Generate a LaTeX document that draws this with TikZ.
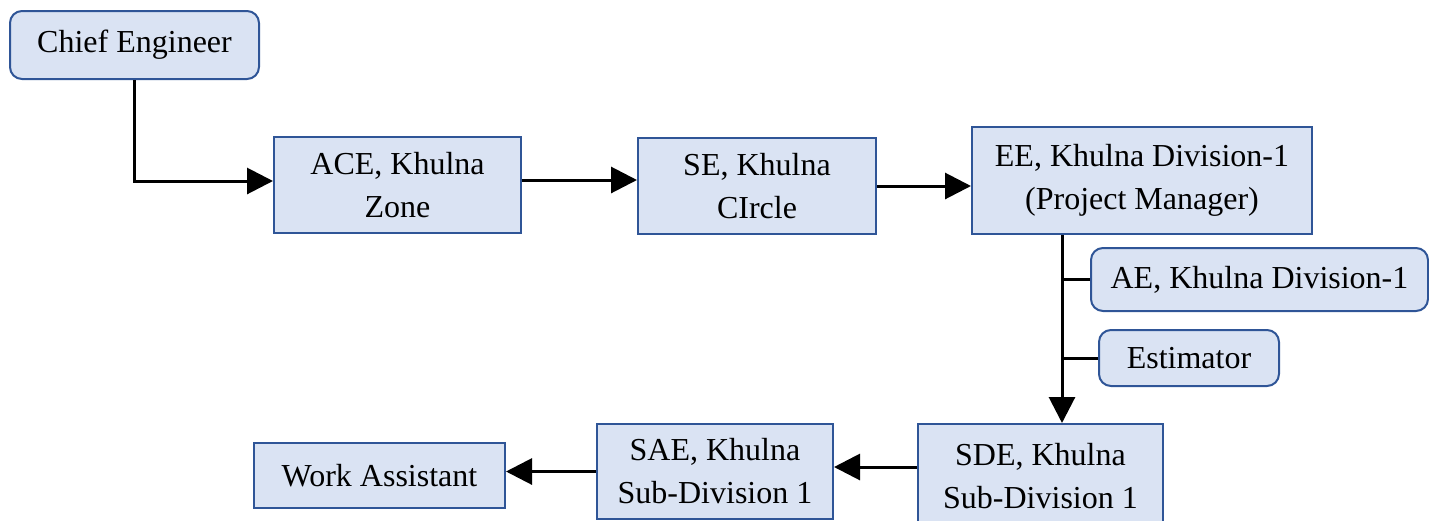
\documentclass[tikz,border=0pt]{standalone}
\usepackage{fontspec}
\setmainfont{Liberation Serif}
\usetikzlibrary{arrows.meta}
\definecolor{boxfill}{HTML}{DAE3F3}
\definecolor{boxline}{HTML}{2F5597}
\begin{document}
\begin{tikzpicture}[x=1pt,y=-1pt,
  box/.style={draw=boxline,fill=boxfill,line width=2pt,align=center,inner sep=0pt,
    font=\fontsize{32}{43}\selectfont},
  rbox/.style={box,rounded corners=12pt},
  conn/.style={line width=3pt},
  arrow/.style={conn,-{Triangle[length=26pt,width=26pt]}}]
\useasboundingbox (0,0) rectangle (1429,520);
% boxes
\node[rbox,minimum width=249pt,minimum height=68pt] (CE) at (134.5,45) {Chief Engineer};
\node[box,minimum width=247pt,minimum height=96pt] (ACE) at (397.5,185) {ACE, Khulna\\Zone};
\node[box,minimum width=238pt,minimum height=96pt] (SE) at (757,186) {SE, Khulna\\CIrcle};
\node[box,minimum width=340pt,minimum height=107pt] (EE) at (1142,180.5) {EE, Khulna Division-1\\(Project Manager)};
\node[rbox,minimum width=337pt,minimum height=63pt] (AE) at (1259.5,279.5) {AE, Khulna Division-1};
\node[rbox,minimum width=180pt,minimum height=56pt] (EST) at (1189,358) {Estimator};
\node[box,minimum width=245pt,minimum height=104pt] (SDE) at (1040.5,476) {SDE, Khulna\\Sub-Division 1};
\node[box,minimum width=236pt,minimum height=95pt] (SAE) at (715,471.5) {SAE, Khulna\\Sub-Division 1};
\node[box,minimum width=251pt,minimum height=65pt] (WA) at (379.5,475.5) {Work Assistant};
% connectors
\draw[arrow] (CE.south) |- ([yshift=4pt]ACE.west);
\draw[arrow] ([yshift=5pt]ACE.east) -- ([yshift=5pt]ACE.east -| SE.west);
\draw[arrow] (SE.east) -- (SE.east -| EE.west);
\coordinate (trunk) at ([xshift=-80pt]EE.south);
\draw[arrow] (trunk) -- (trunk |- SDE.north);
\draw[conn] (AE.west) -- (AE.west -| trunk);
\draw[conn] (EST.west) -- (EST.west -| trunk);
\draw[arrow] ([yshift=9pt]SDE.west) -- ([yshift=9pt]SDE.west -| SAE.east);
\draw[arrow] (SAE.west) -- (SAE.west -| WA.east);
\end{tikzpicture}
\end{document}
